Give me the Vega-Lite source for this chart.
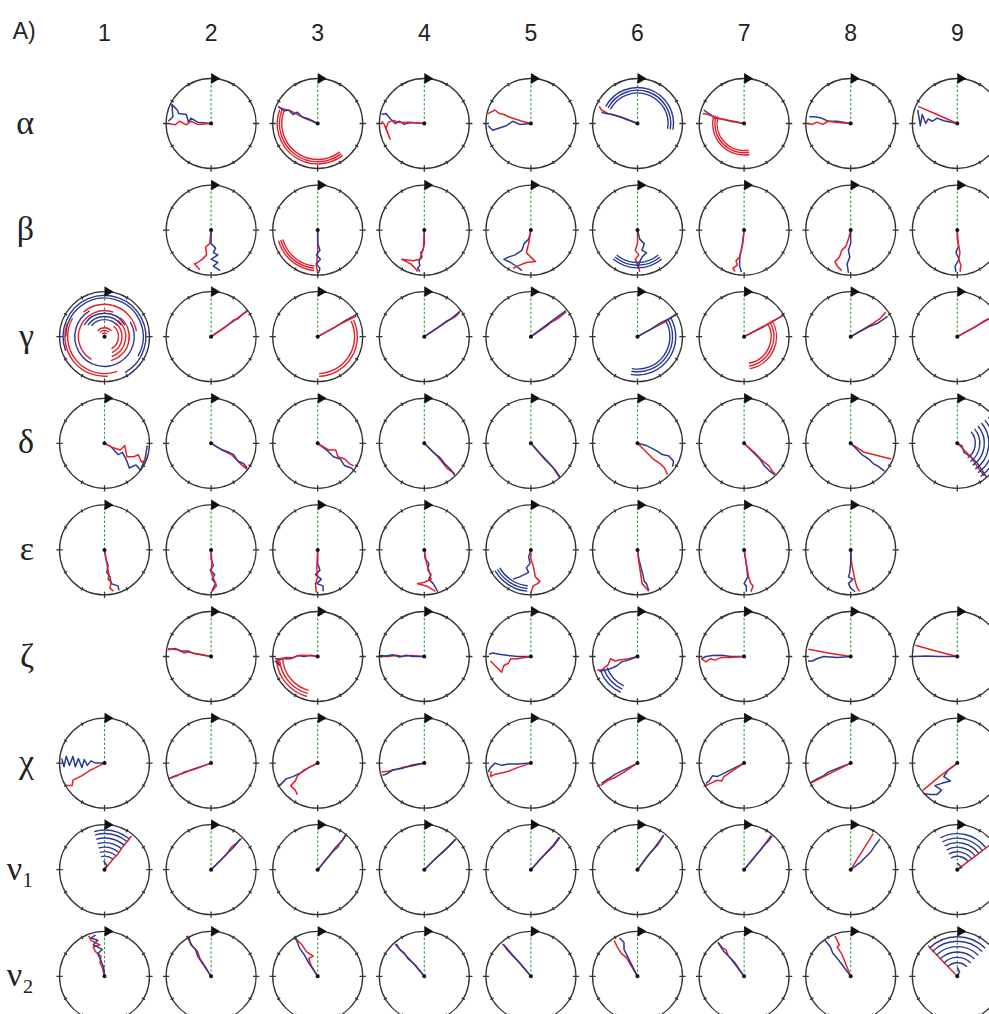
{
"$schema":"https://vega.github.io/schema/vega-lite/v6.json",
"padding":{"left":6,"top":21,"right":0,"bottom":0},
"background":"white",
"bounds":"flush",
"title":{"text":"A)","anchor":"start","frame":"bounds","fontSize":23,"font":"Liberation Sans","fontWeight":"normal","color":"#222","offset":-21,"dx":6},
"config":{"view":{"stroke":null},"point":{"opacity":1}},
"data":{"values":[
{"r":"α","c":1,"t":"e"},{"r":"β","c":1,"t":"e"},{"r":"ζ","c":1,"t":"e"},{"r":"ε","c":9,"t":"e"},
{"r":"α","c":2,"t":"c"},{"r":"α","c":3,"t":"c"},{"r":"α","c":4,"t":"c"},{"r":"α","c":5,"t":"c"},{"r":"α","c":6,"t":"c"},{"r":"α","c":7,"t":"c"},{"r":"α","c":8,"t":"c"},{"r":"α","c":9,"t":"c"},
{"r":"β","c":2,"t":"c"},{"r":"β","c":3,"t":"c"},{"r":"β","c":4,"t":"c"},{"r":"β","c":5,"t":"c"},{"r":"β","c":6,"t":"c"},{"r":"β","c":7,"t":"c"},{"r":"β","c":8,"t":"c"},{"r":"β","c":9,"t":"c"},
{"r":"γ","c":1,"t":"c"},{"r":"γ","c":2,"t":"c"},{"r":"γ","c":3,"t":"c"},{"r":"γ","c":4,"t":"c"},{"r":"γ","c":5,"t":"c"},{"r":"γ","c":6,"t":"c"},{"r":"γ","c":7,"t":"c"},{"r":"γ","c":8,"t":"c"},{"r":"γ","c":9,"t":"c"},
{"r":"δ","c":1,"t":"c"},{"r":"δ","c":2,"t":"c"},{"r":"δ","c":3,"t":"c"},{"r":"δ","c":4,"t":"c"},{"r":"δ","c":5,"t":"c"},{"r":"δ","c":6,"t":"c"},{"r":"δ","c":7,"t":"c"},{"r":"δ","c":8,"t":"c"},{"r":"δ","c":9,"t":"c"},
{"r":"ε","c":1,"t":"c"},{"r":"ε","c":2,"t":"c"},{"r":"ε","c":3,"t":"c"},{"r":"ε","c":4,"t":"c"},{"r":"ε","c":5,"t":"c"},{"r":"ε","c":6,"t":"c"},{"r":"ε","c":7,"t":"c"},{"r":"ε","c":8,"t":"c"},
{"r":"ζ","c":2,"t":"c"},{"r":"ζ","c":3,"t":"c"},{"r":"ζ","c":4,"t":"c"},{"r":"ζ","c":5,"t":"c"},{"r":"ζ","c":6,"t":"c"},{"r":"ζ","c":7,"t":"c"},{"r":"ζ","c":8,"t":"c"},{"r":"ζ","c":9,"t":"c"},
{"r":"χ","c":1,"t":"c"},{"r":"χ","c":2,"t":"c"},{"r":"χ","c":3,"t":"c"},{"r":"χ","c":4,"t":"c"},{"r":"χ","c":5,"t":"c"},{"r":"χ","c":6,"t":"c"},{"r":"χ","c":7,"t":"c"},{"r":"χ","c":8,"t":"c"},{"r":"χ","c":9,"t":"c"},
{"r":"ν₁","c":1,"t":"c"},{"r":"ν₁","c":2,"t":"c"},{"r":"ν₁","c":3,"t":"c"},{"r":"ν₁","c":4,"t":"c"},{"r":"ν₁","c":5,"t":"c"},{"r":"ν₁","c":6,"t":"c"},{"r":"ν₁","c":7,"t":"c"},{"r":"ν₁","c":8,"t":"c"},{"r":"ν₁","c":9,"t":"c"},
{"r":"ν₂","c":1,"t":"c"},{"r":"ν₂","c":2,"t":"c"},{"r":"ν₂","c":3,"t":"c"},{"r":"ν₂","c":4,"t":"c"},{"r":"ν₂","c":5,"t":"c"},{"r":"ν₂","c":6,"t":"c"},{"r":"ν₂","c":7,"t":"c"},{"r":"ν₂","c":8,"t":"c"},{"r":"ν₂","c":9,"t":"c"},

{"r":"α","c":2,"s":"b","o":0,"x":0,"y":0},{"r":"α","c":2,"s":"b","o":1,"x":-0.3,"y":0.03},{"r":"α","c":2,"s":"b","o":2,"x":-0.45,"y":0.12},{"r":"α","c":2,"s":"b","o":3,"x":-0.5,"y":0.02},{"r":"α","c":2,"s":"b","o":4,"x":-0.55,"y":0.2},{"r":"α","c":2,"s":"b","o":5,"x":-0.72,"y":0.22},{"r":"α","c":2,"s":"b","o":6,"x":-0.75,"y":0.3},{"r":"α","c":2,"s":"b","o":7,"x":-0.87,"y":0.42},{"r":"α","c":2,"s":"b","o":8,"x":-0.85,"y":0.15},{"r":"α","c":2,"s":"b","o":9,"x":-0.95,"y":0.05},
{"r":"α","c":2,"s":"r","o":0,"x":0,"y":0},{"r":"α","c":2,"s":"r","o":1,"x":-0.3,"y":-0.02},{"r":"α","c":2,"s":"r","o":2,"x":-0.45,"y":0.05},{"r":"α","c":2,"s":"r","o":3,"x":-0.55,"y":-0.03},{"r":"α","c":2,"s":"r","o":4,"x":-0.7,"y":0.05},{"r":"α","c":2,"s":"r","o":5,"x":-0.8,"y":-0.03},{"r":"α","c":2,"s":"r","o":6,"x":-0.95,"y":0.0},
{"r":"α","c":3,"s":"r","o":0,"x":0,"y":0},{"r":"α","c":3,"s":"r","o":1,"x":-0.3,"y":0.12},{"r":"α","c":3,"s":"r","o":2,"x":-0.6,"y":0.28},{"r":"α","c":3,"s":"r","o":3,"x":-0.85,"y":0.35},
{"r":"α","c":3,"s":"b","o":0,"x":0,"y":0},{"r":"α","c":3,"s":"b","o":1,"x":-0.2,"y":0.1},{"r":"α","c":3,"s":"b","o":2,"x":-0.35,"y":0.15},{"r":"α","c":3,"s":"b","o":3,"x":-0.45,"y":0.25},{"r":"α","c":3,"s":"b","o":4,"x":-0.55,"y":0.2},{"r":"α","c":3,"s":"b","o":5,"x":-0.65,"y":0.3},{"r":"α","c":3,"s":"b","o":6,"x":-0.75,"y":0.28},{"r":"α","c":3,"s":"b","o":7,"x":-0.88,"y":0.38},
{"r":"α","c":4,"s":"b","o":0,"x":0,"y":0},{"r":"α","c":4,"s":"b","o":1,"x":-0.3,"y":0.02},{"r":"α","c":4,"s":"b","o":2,"x":-0.45,"y":-0.02},{"r":"α","c":4,"s":"b","o":3,"x":-0.55,"y":0.05},{"r":"α","c":4,"s":"b","o":4,"x":-0.65,"y":0.0},{"r":"α","c":4,"s":"b","o":5,"x":-0.75,"y":0.1},{"r":"α","c":4,"s":"b","o":6,"x":-0.85,"y":0.22},{"r":"α","c":4,"s":"b","o":7,"x":-0.95,"y":0.2},
{"r":"α","c":4,"s":"r","o":0,"x":0,"y":0},{"r":"α","c":4,"s":"r","o":1,"x":-0.35,"y":0.03},{"r":"α","c":4,"s":"r","o":2,"x":-0.55,"y":0.02},{"r":"α","c":4,"s":"r","o":3,"x":-0.68,"y":0.07},{"r":"α","c":4,"s":"r","o":4,"x":-0.8,"y":0.03},{"r":"α","c":4,"s":"r","o":5,"x":-0.85,"y":-0.1},{"r":"α","c":4,"s":"r","o":6,"x":-0.76,"y":-0.35},{"r":"α","c":4,"s":"r","o":7,"x":-0.9,"y":0.0},{"r":"α","c":4,"s":"r","o":8,"x":-0.95,"y":0.05},
{"r":"α","c":5,"s":"r","o":0,"x":0,"y":0},{"r":"α","c":5,"s":"r","o":1,"x":-0.2,"y":0.05},{"r":"α","c":5,"s":"r","o":2,"x":-0.35,"y":0.1},{"r":"α","c":5,"s":"r","o":3,"x":-0.5,"y":0.15},{"r":"α","c":5,"s":"r","o":4,"x":-0.6,"y":0.2},{"r":"α","c":5,"s":"r","o":5,"x":-0.7,"y":0.22},{"r":"α","c":5,"s":"r","o":6,"x":-0.8,"y":0.3},{"r":"α","c":5,"s":"r","o":7,"x":-0.95,"y":0.22},
{"r":"α","c":5,"s":"b","o":0,"x":0,"y":0},{"r":"α","c":5,"s":"b","o":1,"x":-0.25,"y":-0.02},{"r":"α","c":5,"s":"b","o":2,"x":-0.4,"y":0.05},{"r":"α","c":5,"s":"b","o":3,"x":-0.55,"y":-0.05},{"r":"α","c":5,"s":"b","o":4,"x":-0.7,"y":-0.1},{"r":"α","c":5,"s":"b","o":5,"x":-0.85,"y":-0.15},{"r":"α","c":5,"s":"b","o":6,"x":-0.95,"y":-0.05},
{"r":"α","c":6,"s":"r","o":0,"x":0,"y":0},{"r":"α","c":6,"s":"r","o":1,"x":-0.4,"y":0.15},{"r":"α","c":6,"s":"r","o":2,"x":-0.65,"y":0.22},{"r":"α","c":6,"s":"r","o":3,"x":-0.8,"y":0.3},{"r":"α","c":6,"s":"r","o":4,"x":-0.85,"y":0.38},
{"r":"α","c":6,"s":"b","o":0,"x":0,"y":0},{"r":"α","c":6,"s":"b","o":1,"x":-0.35,"y":0.14},{"r":"α","c":6,"s":"b","o":2,"x":-0.55,"y":0.2},{"r":"α","c":6,"s":"b","o":3,"x":-0.7,"y":0.22},{"r":"α","c":6,"s":"b","o":4,"x":-0.8,"y":0.25},
{"r":"α","c":7,"s":"b","o":0,"x":0,"y":0},{"r":"α","c":7,"s":"b","o":1,"x":-0.3,"y":0.05},{"r":"α","c":7,"s":"b","o":2,"x":-0.5,"y":0.1},{"r":"α","c":7,"s":"b","o":3,"x":-0.65,"y":0.12},{"r":"α","c":7,"s":"b","o":4,"x":-0.75,"y":0.2},{"r":"α","c":7,"s":"b","o":5,"x":-0.9,"y":0.3},
{"r":"α","c":7,"s":"r","o":0,"x":0,"y":0},{"r":"α","c":7,"s":"r","o":1,"x":-0.35,"y":0.07},{"r":"α","c":7,"s":"r","o":2,"x":-0.6,"y":0.12},{"r":"α","c":7,"s":"r","o":3,"x":-0.8,"y":0.2},{"r":"α","c":7,"s":"r","o":4,"x":-0.92,"y":0.22},
{"r":"α","c":8,"s":"b","o":0,"x":0,"y":0},{"r":"α","c":8,"s":"b","o":1,"x":-0.3,"y":0.05},{"r":"α","c":8,"s":"b","o":2,"x":-0.5,"y":0.05},{"r":"α","c":8,"s":"b","o":3,"x":-0.65,"y":0.12},{"r":"α","c":8,"s":"b","o":4,"x":-0.8,"y":0.15},{"r":"α","c":8,"s":"b","o":5,"x":-0.92,"y":0.15},
{"r":"α","c":8,"s":"r","o":0,"x":0,"y":0},{"r":"α","c":8,"s":"r","o":1,"x":-0.3,"y":0.02},{"r":"α","c":8,"s":"r","o":2,"x":-0.5,"y":0.05},{"r":"α","c":8,"s":"r","o":3,"x":-0.62,"y":-0.02},{"r":"α","c":8,"s":"r","o":4,"x":-0.75,"y":0.03},{"r":"α","c":8,"s":"r","o":5,"x":-0.85,"y":-0.02},{"r":"α","c":8,"s":"r","o":6,"x":-0.95,"y":0.0},
{"r":"α","c":9,"s":"b","o":0,"x":0,"y":0},{"r":"α","c":9,"s":"b","o":1,"x":-0.3,"y":0.06},{"r":"α","c":9,"s":"b","o":2,"x":-0.45,"y":0.12},{"r":"α","c":9,"s":"b","o":3,"x":-0.55,"y":0.05},{"r":"α","c":9,"s":"b","o":4,"x":-0.65,"y":0.1},{"r":"α","c":9,"s":"b","o":5,"x":-0.7,"y":0.0},{"r":"α","c":9,"s":"b","o":6,"x":-0.78,"y":0.2},{"r":"α","c":9,"s":"b","o":7,"x":-0.82,"y":-0.05},{"r":"α","c":9,"s":"b","o":8,"x":-0.88,"y":0.3},
{"r":"α","c":9,"s":"r","o":0,"x":0,"y":0},{"r":"α","c":9,"s":"r","o":1,"x":-0.45,"y":0.2},{"r":"α","c":9,"s":"r","o":2,"x":-0.87,"y":0.38},

{"r":"β","c":2,"s":"r","o":0,"x":0,"y":0},{"r":"β","c":2,"s":"r","o":1,"x":-0.03,"y":-0.3},{"r":"β","c":2,"s":"r","o":2,"x":-0.12,"y":-0.37},{"r":"β","c":2,"s":"r","o":3,"x":-0.1,"y":-0.55},{"r":"β","c":2,"s":"r","o":4,"x":-0.2,"y":-0.65},{"r":"β","c":2,"s":"r","o":5,"x":-0.3,"y":-0.72},{"r":"β","c":2,"s":"r","o":6,"x":-0.37,"y":-0.75},{"r":"β","c":2,"s":"r","o":7,"x":-0.25,"y":-0.88},
{"r":"β","c":2,"s":"b","o":0,"x":0,"y":0},{"r":"β","c":2,"s":"b","o":1,"x":0.0,"y":-0.3},{"r":"β","c":2,"s":"b","o":2,"x":0.1,"y":-0.4},{"r":"β","c":2,"s":"b","o":3,"x":0.05,"y":-0.5},{"r":"β","c":2,"s":"b","o":4,"x":0.15,"y":-0.55},{"r":"β","c":2,"s":"b","o":5,"x":0.0,"y":-0.65},{"r":"β","c":2,"s":"b","o":6,"x":0.15,"y":-0.72},{"r":"β","c":2,"s":"b","o":7,"x":0.05,"y":-0.8},{"r":"β","c":2,"s":"b","o":8,"x":0.2,"y":-0.9},
{"r":"β","c":3,"s":"r","o":0,"x":0,"y":0},{"r":"β","c":3,"s":"r","o":1,"x":0.0,"y":-0.5},{"r":"β","c":3,"s":"r","o":2,"x":-0.03,"y":-0.8},{"r":"β","c":3,"s":"r","o":3,"x":0.0,"y":-0.95},
{"r":"β","c":3,"s":"b","o":0,"x":0,"y":0},{"r":"β","c":3,"s":"b","o":1,"x":0.0,"y":-0.3},{"r":"β","c":3,"s":"b","o":2,"x":0.05,"y":-0.45},{"r":"β","c":3,"s":"b","o":3,"x":-0.03,"y":-0.55},{"r":"β","c":3,"s":"b","o":4,"x":0.06,"y":-0.65},{"r":"β","c":3,"s":"b","o":5,"x":-0.03,"y":-0.75},{"r":"β","c":3,"s":"b","o":6,"x":0.05,"y":-0.85},{"r":"β","c":3,"s":"b","o":7,"x":0.02,"y":-0.95},
{"r":"β","c":4,"s":"b","o":0,"x":0,"y":0},{"r":"β","c":4,"s":"b","o":1,"x":0.0,"y":-0.3},{"r":"β","c":4,"s":"b","o":2,"x":-0.03,"y":-0.45},{"r":"β","c":4,"s":"b","o":3,"x":-0.08,"y":-0.5},{"r":"β","c":4,"s":"b","o":4,"x":-0.05,"y":-0.6},{"r":"β","c":4,"s":"b","o":5,"x":-0.12,"y":-0.68},{"r":"β","c":4,"s":"b","o":6,"x":-0.1,"y":-0.78},{"r":"β","c":4,"s":"b","o":7,"x":-0.15,"y":-0.85},{"r":"β","c":4,"s":"b","o":8,"x":-0.1,"y":-0.92},
{"r":"β","c":4,"s":"r","o":0,"x":0,"y":0},{"r":"β","c":4,"s":"r","o":1,"x":-0.02,"y":-0.4},{"r":"β","c":4,"s":"r","o":2,"x":-0.1,"y":-0.65},{"r":"β","c":4,"s":"r","o":3,"x":-0.25,"y":-0.68},{"r":"β","c":4,"s":"r","o":4,"x":-0.5,"y":-0.65},{"r":"β","c":4,"s":"r","o":5,"x":-0.3,"y":-0.75},{"r":"β","c":4,"s":"r","o":6,"x":-0.2,"y":-0.85},{"r":"β","c":4,"s":"r","o":7,"x":-0.15,"y":-0.92},
{"r":"β","c":5,"s":"b","o":0,"x":0,"y":0},{"r":"β","c":5,"s":"b","o":1,"x":-0.05,"y":-0.2},{"r":"β","c":5,"s":"b","o":2,"x":-0.15,"y":-0.3},{"r":"β","c":5,"s":"b","o":3,"x":-0.2,"y":-0.45},{"r":"β","c":5,"s":"b","o":4,"x":-0.35,"y":-0.55},{"r":"β","c":5,"s":"b","o":5,"x":-0.5,"y":-0.6},{"r":"β","c":5,"s":"b","o":6,"x":-0.6,"y":-0.65},{"r":"β","c":5,"s":"b","o":7,"x":-0.45,"y":-0.72},{"r":"β","c":5,"s":"b","o":8,"x":-0.3,"y":-0.82},{"r":"β","c":5,"s":"b","o":9,"x":-0.2,"y":-0.9},
{"r":"β","c":5,"s":"r","o":0,"x":0,"y":0},{"r":"β","c":5,"s":"r","o":1,"x":-0.05,"y":-0.3},{"r":"β","c":5,"s":"r","o":2,"x":-0.1,"y":-0.5},{"r":"β","c":5,"s":"r","o":3,"x":0.0,"y":-0.6},{"r":"β","c":5,"s":"r","o":4,"x":0.1,"y":-0.7},{"r":"β","c":5,"s":"r","o":5,"x":-0.1,"y":-0.72},{"r":"β","c":5,"s":"r","o":6,"x":-0.3,"y":-0.8},{"r":"β","c":5,"s":"r","o":7,"x":-0.4,"y":-0.85},
{"r":"β","c":6,"s":"r","o":0,"x":0,"y":0},{"r":"β","c":6,"s":"r","o":1,"x":0.0,"y":-0.3},{"r":"β","c":6,"s":"r","o":2,"x":-0.05,"y":-0.45},{"r":"β","c":6,"s":"r","o":3,"x":0.03,"y":-0.55},{"r":"β","c":6,"s":"r","o":4,"x":-0.05,"y":-0.65},{"r":"β","c":6,"s":"r","o":5,"x":0.02,"y":-0.8},{"r":"β","c":6,"s":"r","o":6,"x":0.05,"y":-0.93},
{"r":"β","c":6,"s":"b","o":0,"x":0,"y":0},{"r":"β","c":6,"s":"b","o":1,"x":0.05,"y":-0.2},{"r":"β","c":6,"s":"b","o":2,"x":0.15,"y":-0.3},{"r":"β","c":6,"s":"b","o":3,"x":0.1,"y":-0.45},{"r":"β","c":6,"s":"b","o":4,"x":0.2,"y":-0.5},{"r":"β","c":6,"s":"b","o":5,"x":0.1,"y":-0.6},{"r":"β","c":6,"s":"b","o":6,"x":0.05,"y":-0.7},{"r":"β","c":6,"s":"b","o":7,"x":0.0,"y":-0.85},
{"r":"β","c":7,"s":"b","o":0,"x":0,"y":0},{"r":"β","c":7,"s":"b","o":1,"x":-0.03,"y":-0.3},{"r":"β","c":7,"s":"b","o":2,"x":-0.08,"y":-0.5},{"r":"β","c":7,"s":"b","o":3,"x":-0.1,"y":-0.65},{"r":"β","c":7,"s":"b","o":4,"x":-0.1,"y":-0.8},{"r":"β","c":7,"s":"b","o":5,"x":-0.06,"y":-0.93},
{"r":"β","c":7,"s":"r","o":0,"x":0,"y":0},{"r":"β","c":7,"s":"r","o":1,"x":-0.05,"y":-0.4},{"r":"β","c":7,"s":"r","o":2,"x":-0.1,"y":-0.6},{"r":"β","c":7,"s":"r","o":3,"x":-0.18,"y":-0.68},{"r":"β","c":7,"s":"r","o":4,"x":-0.15,"y":-0.78},{"r":"β","c":7,"s":"r","o":5,"x":-0.25,"y":-0.85},{"r":"β","c":7,"s":"r","o":6,"x":-0.2,"y":-0.92},
{"r":"β","c":8,"s":"r","o":0,"x":0,"y":0},{"r":"β","c":8,"s":"r","o":1,"x":-0.05,"y":-0.2},{"r":"β","c":8,"s":"r","o":2,"x":-0.1,"y":-0.35},{"r":"β","c":8,"s":"r","o":3,"x":-0.2,"y":-0.45},{"r":"β","c":8,"s":"r","o":4,"x":-0.25,"y":-0.6},{"r":"β","c":8,"s":"r","o":5,"x":-0.35,"y":-0.7},{"r":"β","c":8,"s":"r","o":6,"x":-0.3,"y":-0.8},{"r":"β","c":8,"s":"r","o":7,"x":-0.2,"y":-0.9},
{"r":"β","c":8,"s":"b","o":0,"x":0,"y":0},{"r":"β","c":8,"s":"b","o":1,"x":0.0,"y":-0.3},{"r":"β","c":8,"s":"b","o":2,"x":-0.05,"y":-0.45},{"r":"β","c":8,"s":"b","o":3,"x":-0.02,"y":-0.6},{"r":"β","c":8,"s":"b","o":4,"x":-0.08,"y":-0.75},{"r":"β","c":8,"s":"b","o":5,"x":-0.05,"y":-0.95},
{"r":"β","c":9,"s":"b","o":0,"x":0,"y":0},{"r":"β","c":9,"s":"b","o":1,"x":0.0,"y":-0.2},{"r":"β","c":9,"s":"b","o":2,"x":0.03,"y":-0.35},{"r":"β","c":9,"s":"b","o":3,"x":-0.03,"y":-0.5},{"r":"β","c":9,"s":"b","o":4,"x":0.04,"y":-0.65},{"r":"β","c":9,"s":"b","o":5,"x":-0.05,"y":-0.8},{"r":"β","c":9,"s":"b","o":6,"x":-0.03,"y":-0.93},
{"r":"β","c":9,"s":"r","o":0,"x":0,"y":0},{"r":"β","c":9,"s":"r","o":1,"x":0.02,"y":-0.3},{"r":"β","c":9,"s":"r","o":2,"x":0.06,"y":-0.5},{"r":"β","c":9,"s":"r","o":3,"x":0.03,"y":-0.65},{"r":"β","c":9,"s":"r","o":4,"x":0.08,"y":-0.78},{"r":"β","c":9,"s":"r","o":5,"x":0.06,"y":-0.93},

{"r":"γ","c":2,"s":"b","o":0,"x":0,"y":0},{"r":"γ","c":2,"s":"b","o":1,"x":0.4,"y":0.28},{"r":"γ","c":2,"s":"b","o":2,"x":0.6,"y":0.42},{"r":"γ","c":2,"s":"b","o":3,"x":0.8,"y":0.58},
{"r":"γ","c":2,"s":"r","o":0,"x":0,"y":0},{"r":"γ","c":2,"s":"r","o":1,"x":0.3,"y":0.2},{"r":"γ","c":2,"s":"r","o":2,"x":0.5,"y":0.37},{"r":"γ","c":2,"s":"r","o":3,"x":0.6,"y":0.4},{"r":"γ","c":2,"s":"r","o":4,"x":0.7,"y":0.5},{"r":"γ","c":2,"s":"r","o":5,"x":0.82,"y":0.57},
{"r":"γ","c":3,"s":"b","o":0,"x":0,"y":0},{"r":"γ","c":3,"s":"b","o":1,"x":0.4,"y":0.22},{"r":"γ","c":3,"s":"b","o":2,"x":0.6,"y":0.35},{"r":"γ","c":3,"s":"b","o":3,"x":0.88,"y":0.5},
{"r":"γ","c":3,"s":"r","o":0,"x":0,"y":0},{"r":"γ","c":3,"s":"r","o":1,"x":0.5,"y":0.28},{"r":"γ","c":3,"s":"r","o":2,"x":0.85,"y":0.45},
{"r":"γ","c":4,"s":"r","o":0,"x":0,"y":0},{"r":"γ","c":4,"s":"r","o":1,"x":0.3,"y":0.2},{"r":"γ","c":4,"s":"r","o":2,"x":0.5,"y":0.35},{"r":"γ","c":4,"s":"r","o":3,"x":0.65,"y":0.42},{"r":"γ","c":4,"s":"r","o":4,"x":0.75,"y":0.5},{"r":"γ","c":4,"s":"r","o":5,"x":0.8,"y":0.58},
{"r":"γ","c":4,"s":"b","o":0,"x":0,"y":0},{"r":"γ","c":4,"s":"b","o":1,"x":0.4,"y":0.27},{"r":"γ","c":4,"s":"b","o":2,"x":0.6,"y":0.4},{"r":"γ","c":4,"s":"b","o":3,"x":0.78,"y":0.55},
{"r":"γ","c":5,"s":"r","o":0,"x":0,"y":0},{"r":"γ","c":5,"s":"r","o":1,"x":0.3,"y":0.2},{"r":"γ","c":5,"s":"r","o":2,"x":0.45,"y":0.32},{"r":"γ","c":5,"s":"r","o":3,"x":0.6,"y":0.4},{"r":"γ","c":5,"s":"r","o":4,"x":0.78,"y":0.55},
{"r":"γ","c":5,"s":"b","o":0,"x":0,"y":0},{"r":"γ","c":5,"s":"b","o":1,"x":0.4,"y":0.3},{"r":"γ","c":5,"s":"b","o":2,"x":0.78,"y":0.58},
{"r":"γ","c":6,"s":"r","o":0,"x":0,"y":0},{"r":"γ","c":6,"s":"r","o":1,"x":0.4,"y":0.22},{"r":"γ","c":6,"s":"r","o":2,"x":0.6,"y":0.32},{"r":"γ","c":6,"s":"r","o":3,"x":0.85,"y":0.5},
{"r":"γ","c":6,"s":"b","o":0,"x":0,"y":0},{"r":"γ","c":6,"s":"b","o":1,"x":0.3,"y":0.17},{"r":"γ","c":6,"s":"b","o":2,"x":0.5,"y":0.3},{"r":"γ","c":6,"s":"b","o":3,"x":0.7,"y":0.4},{"r":"γ","c":6,"s":"b","o":4,"x":0.85,"y":0.48},
{"r":"γ","c":7,"s":"b","o":0,"x":0,"y":0},{"r":"γ","c":7,"s":"b","o":1,"x":0.4,"y":0.2},{"r":"γ","c":7,"s":"b","o":2,"x":0.6,"y":0.32},{"r":"γ","c":7,"s":"b","o":3,"x":0.87,"y":0.48},
{"r":"γ","c":7,"s":"r","o":0,"x":0,"y":0},{"r":"γ","c":7,"s":"r","o":1,"x":0.5,"y":0.27},{"r":"γ","c":7,"s":"r","o":2,"x":0.88,"y":0.48},
{"r":"γ","c":8,"s":"r","o":0,"x":0,"y":0},{"r":"γ","c":8,"s":"r","o":1,"x":0.3,"y":0.18},{"r":"γ","c":8,"s":"r","o":2,"x":0.5,"y":0.3},{"r":"γ","c":8,"s":"r","o":3,"x":0.65,"y":0.4},{"r":"γ","c":8,"s":"r","o":4,"x":0.78,"y":0.55},
{"r":"γ","c":8,"s":"b","o":0,"x":0,"y":0},{"r":"γ","c":8,"s":"b","o":1,"x":0.4,"y":0.22},{"r":"γ","c":8,"s":"b","o":2,"x":0.6,"y":0.3},{"r":"γ","c":8,"s":"b","o":3,"x":0.75,"y":0.4},{"r":"γ","c":8,"s":"b","o":4,"x":0.82,"y":0.45},
{"r":"γ","c":9,"s":"b","o":0,"x":0,"y":0},{"r":"γ","c":9,"s":"b","o":1,"x":0.4,"y":0.22},{"r":"γ","c":9,"s":"b","o":2,"x":0.6,"y":0.35},{"r":"γ","c":9,"s":"b","o":3,"x":0.7,"y":0.4},{"r":"γ","c":9,"s":"b","o":4,"x":0.78,"y":0.45},{"r":"γ","c":9,"s":"b","o":5,"x":0.88,"y":0.5},
{"r":"γ","c":9,"s":"r","o":0,"x":0,"y":0},{"r":"γ","c":9,"s":"r","o":1,"x":0.5,"y":0.28},{"r":"γ","c":9,"s":"r","o":2,"x":0.8,"y":0.45},{"r":"γ","c":9,"s":"r","o":3,"x":0.9,"y":0.5},

{"r":"δ","c":1,"s":"b","o":0,"x":0,"y":0},{"r":"δ","c":1,"s":"b","o":1,"x":0.15,"y":-0.08},{"r":"δ","c":1,"s":"b","o":2,"x":0.3,"y":-0.25},{"r":"δ","c":1,"s":"b","o":3,"x":0.4,"y":-0.2},{"r":"δ","c":1,"s":"b","o":4,"x":0.5,"y":-0.4},{"r":"δ","c":1,"s":"b","o":5,"x":0.55,"y":-0.55},{"r":"δ","c":1,"s":"b","o":6,"x":0.7,"y":-0.48},{"r":"δ","c":1,"s":"b","o":7,"x":0.8,"y":-0.6},{"r":"δ","c":1,"s":"b","o":8,"x":0.9,"y":-0.35},{"r":"δ","c":1,"s":"b","o":9,"x":0.95,"y":-0.05},
{"r":"δ","c":1,"s":"r","o":0,"x":0,"y":0},{"r":"δ","c":1,"s":"r","o":1,"x":0.2,"y":-0.1},{"r":"δ","c":1,"s":"r","o":2,"x":0.35,"y":-0.15},{"r":"δ","c":1,"s":"r","o":3,"x":0.45,"y":-0.05},{"r":"δ","c":1,"s":"r","o":4,"x":0.5,"y":-0.3},{"r":"δ","c":1,"s":"r","o":5,"x":0.65,"y":-0.3},{"r":"δ","c":1,"s":"r","o":6,"x":0.75,"y":-0.25},{"r":"δ","c":1,"s":"r","o":7,"x":0.82,"y":-0.42},{"r":"δ","c":1,"s":"r","o":8,"x":0.9,"y":-0.38},
{"r":"δ","c":2,"s":"r","o":0,"x":0,"y":0},{"r":"δ","c":2,"s":"r","o":1,"x":0.3,"y":-0.18},{"r":"δ","c":2,"s":"r","o":2,"x":0.45,"y":-0.25},{"r":"δ","c":2,"s":"r","o":3,"x":0.55,"y":-0.35},{"r":"δ","c":2,"s":"r","o":4,"x":0.68,"y":-0.48},{"r":"δ","c":2,"s":"r","o":5,"x":0.8,"y":-0.58},
{"r":"δ","c":2,"s":"b","o":0,"x":0,"y":0},{"r":"δ","c":2,"s":"b","o":1,"x":0.25,"y":-0.15},{"r":"δ","c":2,"s":"b","o":2,"x":0.4,"y":-0.2},{"r":"δ","c":2,"s":"b","o":3,"x":0.5,"y":-0.25},{"r":"δ","c":2,"s":"b","o":4,"x":0.6,"y":-0.4},{"r":"δ","c":2,"s":"b","o":5,"x":0.72,"y":-0.45},{"r":"δ","c":2,"s":"b","o":6,"x":0.8,"y":-0.55},
{"r":"δ","c":3,"s":"b","o":0,"x":0,"y":0},{"r":"δ","c":3,"s":"b","o":1,"x":0.2,"y":-0.15},{"r":"δ","c":3,"s":"b","o":2,"x":0.35,"y":-0.3},{"r":"δ","c":3,"s":"b","o":3,"x":0.5,"y":-0.35},{"r":"δ","c":3,"s":"b","o":4,"x":0.6,"y":-0.5},{"r":"δ","c":3,"s":"b","o":5,"x":0.75,"y":-0.55},{"r":"δ","c":3,"s":"b","o":6,"x":0.85,"y":-0.65},
{"r":"δ","c":3,"s":"r","o":0,"x":0,"y":0},{"r":"δ","c":3,"s":"r","o":1,"x":0.25,"y":-0.15},{"r":"δ","c":3,"s":"r","o":2,"x":0.4,"y":-0.15},{"r":"δ","c":3,"s":"r","o":3,"x":0.45,"y":-0.3},{"r":"δ","c":3,"s":"r","o":4,"x":0.6,"y":-0.35},{"r":"δ","c":3,"s":"r","o":5,"x":0.7,"y":-0.45},{"r":"δ","c":3,"s":"r","o":6,"x":0.8,"y":-0.5},
{"r":"δ","c":4,"s":"r","o":0,"x":0,"y":0},{"r":"δ","c":4,"s":"r","o":1,"x":0.3,"y":-0.3},{"r":"δ","c":4,"s":"r","o":2,"x":0.5,"y":-0.55},{"r":"δ","c":4,"s":"r","o":3,"x":0.68,"y":-0.68},
{"r":"δ","c":4,"s":"b","o":0,"x":0,"y":0},{"r":"δ","c":4,"s":"b","o":1,"x":0.2,"y":-0.2},{"r":"δ","c":4,"s":"b","o":2,"x":0.35,"y":-0.32},{"r":"δ","c":4,"s":"b","o":3,"x":0.45,"y":-0.45},{"r":"δ","c":4,"s":"b","o":4,"x":0.55,"y":-0.55},{"r":"δ","c":4,"s":"b","o":5,"x":0.6,"y":-0.6},{"r":"δ","c":4,"s":"b","o":6,"x":0.68,"y":-0.72},
{"r":"δ","c":5,"s":"r","o":0,"x":0,"y":0},{"r":"δ","c":5,"s":"r","o":1,"x":0.3,"y":-0.35},{"r":"δ","c":5,"s":"r","o":2,"x":0.55,"y":-0.6},{"r":"δ","c":5,"s":"r","o":3,"x":0.65,"y":-0.75},
{"r":"δ","c":5,"s":"b","o":0,"x":0,"y":0},{"r":"δ","c":5,"s":"b","o":1,"x":0.2,"y":-0.22},{"r":"δ","c":5,"s":"b","o":2,"x":0.35,"y":-0.38},{"r":"δ","c":5,"s":"b","o":3,"x":0.5,"y":-0.55},{"r":"δ","c":5,"s":"b","o":4,"x":0.64,"y":-0.76},
{"r":"δ","c":6,"s":"b","o":0,"x":0,"y":0},{"r":"δ","c":6,"s":"b","o":1,"x":0.2,"y":-0.05},{"r":"δ","c":6,"s":"b","o":2,"x":0.4,"y":-0.15},{"r":"δ","c":6,"s":"b","o":3,"x":0.55,"y":-0.25},{"r":"δ","c":6,"s":"b","o":4,"x":0.7,"y":-0.28},{"r":"δ","c":6,"s":"b","o":5,"x":0.8,"y":-0.4},{"r":"δ","c":6,"s":"b","o":6,"x":0.78,"y":-0.52},
{"r":"δ","c":6,"s":"r","o":0,"x":0,"y":0},{"r":"δ","c":6,"s":"r","o":1,"x":0.2,"y":-0.2},{"r":"δ","c":6,"s":"r","o":2,"x":0.35,"y":-0.35},{"r":"δ","c":6,"s":"r","o":3,"x":0.5,"y":-0.45},{"r":"δ","c":6,"s":"r","o":4,"x":0.6,"y":-0.55},{"r":"δ","c":6,"s":"r","o":5,"x":0.67,"y":-0.7},
{"r":"δ","c":7,"s":"b","o":0,"x":0,"y":0},{"r":"δ","c":7,"s":"b","o":1,"x":0.2,"y":-0.2},{"r":"δ","c":7,"s":"b","o":2,"x":0.35,"y":-0.35},{"r":"δ","c":7,"s":"b","o":3,"x":0.45,"y":-0.5},{"r":"δ","c":7,"s":"b","o":4,"x":0.55,"y":-0.6},{"r":"δ","c":7,"s":"b","o":5,"x":0.68,"y":-0.7},
{"r":"δ","c":7,"s":"r","o":0,"x":0,"y":0},{"r":"δ","c":7,"s":"r","o":1,"x":0.25,"y":-0.22},{"r":"δ","c":7,"s":"r","o":2,"x":0.4,"y":-0.38},{"r":"δ","c":7,"s":"r","o":3,"x":0.55,"y":-0.5},{"r":"δ","c":7,"s":"r","o":4,"x":0.65,"y":-0.65},{"r":"δ","c":7,"s":"r","o":5,"x":0.7,"y":-0.68},
{"r":"δ","c":8,"s":"r","o":0,"x":0,"y":0},{"r":"δ","c":8,"s":"r","o":1,"x":0.3,"y":-0.2},{"r":"δ","c":8,"s":"r","o":2,"x":0.5,"y":-0.25},{"r":"δ","c":8,"s":"r","o":3,"x":0.7,"y":-0.3},{"r":"δ","c":8,"s":"r","o":4,"x":0.9,"y":-0.35},
{"r":"δ","c":8,"s":"b","o":0,"x":0,"y":0},{"r":"δ","c":8,"s":"b","o":1,"x":0.25,"y":-0.25},{"r":"δ","c":8,"s":"b","o":2,"x":0.4,"y":-0.35},{"r":"δ","c":8,"s":"b","o":3,"x":0.5,"y":-0.45},{"r":"δ","c":8,"s":"b","o":4,"x":0.6,"y":-0.5},{"r":"δ","c":8,"s":"b","o":5,"x":0.75,"y":-0.62},
{"r":"δ","c":9,"s":"b","o":0,"x":0,"y":0},{"r":"δ","c":9,"s":"b","o":1,"x":0.1,"y":-0.05},{"r":"δ","c":9,"s":"b","o":2,"x":0.15,"y":-0.2},{"r":"δ","c":9,"s":"b","o":3,"x":0.3,"y":-0.3},{"r":"δ","c":9,"s":"b","o":4,"x":0.45,"y":-0.45},{"r":"δ","c":9,"s":"b","o":5,"x":0.55,"y":-0.6},{"r":"δ","c":9,"s":"b","o":6,"x":0.65,"y":-0.75},
{"r":"δ","c":9,"s":"r","o":0,"x":0,"y":0},{"r":"δ","c":9,"s":"r","o":1,"x":0.3,"y":-0.3},{"r":"δ","c":9,"s":"r","o":2,"x":0.5,"y":-0.6},{"r":"δ","c":9,"s":"r","o":3,"x":0.6,"y":-0.72},

{"r":"ε","c":1,"s":"b","o":0,"x":0,"y":0},{"r":"ε","c":1,"s":"b","o":1,"x":0.03,"y":-0.2},{"r":"ε","c":1,"s":"b","o":2,"x":0.08,"y":-0.35},{"r":"ε","c":1,"s":"b","o":3,"x":0.05,"y":-0.5},{"r":"ε","c":1,"s":"b","o":4,"x":0.12,"y":-0.6},{"r":"ε","c":1,"s":"b","o":5,"x":0.15,"y":-0.75},{"r":"ε","c":1,"s":"b","o":6,"x":0.3,"y":-0.8},{"r":"ε","c":1,"s":"b","o":7,"x":0.32,"y":-0.9},
{"r":"ε","c":1,"s":"r","o":0,"x":0,"y":0},{"r":"ε","c":1,"s":"r","o":1,"x":0.05,"y":-0.3},{"r":"ε","c":1,"s":"r","o":2,"x":0.1,"y":-0.55},{"r":"ε","c":1,"s":"r","o":3,"x":0.08,"y":-0.65},{"r":"ε","c":1,"s":"r","o":4,"x":0.15,"y":-0.72},{"r":"ε","c":1,"s":"r","o":5,"x":0.12,"y":-0.85},{"r":"ε","c":1,"s":"r","o":6,"x":0.2,"y":-0.92},
{"r":"ε","c":2,"s":"b","o":0,"x":0,"y":0},{"r":"ε","c":2,"s":"b","o":1,"x":0.0,"y":-0.2},{"r":"ε","c":2,"s":"b","o":2,"x":0.05,"y":-0.35},{"r":"ε","c":2,"s":"b","o":3,"x":-0.02,"y":-0.45},{"r":"ε","c":2,"s":"b","o":4,"x":0.08,"y":-0.55},{"r":"ε","c":2,"s":"b","o":5,"x":0.02,"y":-0.65},{"r":"ε","c":2,"s":"b","o":6,"x":0.1,"y":-0.75},{"r":"ε","c":2,"s":"b","o":7,"x":0.02,"y":-0.9},
{"r":"ε","c":2,"s":"r","o":0,"x":0,"y":0},{"r":"ε","c":2,"s":"r","o":1,"x":0.02,"y":-0.3},{"r":"ε","c":2,"s":"r","o":2,"x":0.0,"y":-0.5},{"r":"ε","c":2,"s":"r","o":3,"x":0.06,"y":-0.65},{"r":"ε","c":2,"s":"r","o":4,"x":0.12,"y":-0.8},{"r":"ε","c":2,"s":"r","o":5,"x":0.0,"y":-0.95},
{"r":"ε","c":3,"s":"b","o":0,"x":0,"y":0},{"r":"ε","c":3,"s":"b","o":1,"x":0.0,"y":-0.3},{"r":"ε","c":3,"s":"b","o":2,"x":0.05,"y":-0.45},{"r":"ε","c":3,"s":"b","o":3,"x":-0.05,"y":-0.55},{"r":"ε","c":3,"s":"b","o":4,"x":0.08,"y":-0.65},{"r":"ε","c":3,"s":"b","o":5,"x":-0.02,"y":-0.75},{"r":"ε","c":3,"s":"b","o":6,"x":0.12,"y":-0.8},{"r":"ε","c":3,"s":"b","o":7,"x":0.12,"y":-0.92},
{"r":"ε","c":3,"s":"r","o":0,"x":0,"y":0},{"r":"ε","c":3,"s":"r","o":1,"x":-0.02,"y":-0.4},{"r":"ε","c":3,"s":"r","o":2,"x":0.0,"y":-0.6},{"r":"ε","c":3,"s":"r","o":3,"x":-0.05,"y":-0.75},{"r":"ε","c":3,"s":"r","o":4,"x":-0.03,"y":-0.95},
{"r":"ε","c":4,"s":"b","o":0,"x":0,"y":0},{"r":"ε","c":4,"s":"b","o":1,"x":0.02,"y":-0.2},{"r":"ε","c":4,"s":"b","o":2,"x":0.1,"y":-0.3},{"r":"ε","c":4,"s":"b","o":3,"x":0.08,"y":-0.45},{"r":"ε","c":4,"s":"b","o":4,"x":0.15,"y":-0.55},{"r":"ε","c":4,"s":"b","o":5,"x":0.1,"y":-0.65},{"r":"ε","c":4,"s":"b","o":6,"x":0.2,"y":-0.75},{"r":"ε","c":4,"s":"b","o":7,"x":0.3,"y":-0.93},
{"r":"ε","c":4,"s":"r","o":0,"x":0,"y":0},{"r":"ε","c":4,"s":"r","o":1,"x":0.05,"y":-0.3},{"r":"ε","c":4,"s":"r","o":2,"x":0.12,"y":-0.5},{"r":"ε","c":4,"s":"r","o":3,"x":0.15,"y":-0.65},{"r":"ε","c":4,"s":"r","o":4,"x":0.0,"y":-0.72},{"r":"ε","c":4,"s":"r","o":5,"x":-0.15,"y":-0.75},{"r":"ε","c":4,"s":"r","o":6,"x":0.05,"y":-0.8},{"r":"ε","c":4,"s":"r","o":7,"x":0.25,"y":-0.92},
{"r":"ε","c":5,"s":"b","o":0,"x":0,"y":0},{"r":"ε","c":5,"s":"b","o":1,"x":-0.05,"y":-0.15},{"r":"ε","c":5,"s":"b","o":2,"x":-0.02,"y":-0.3},{"r":"ε","c":5,"s":"b","o":3,"x":-0.1,"y":-0.4},{"r":"ε","c":5,"s":"b","o":4,"x":-0.05,"y":-0.5},{"r":"ε","c":5,"s":"b","o":5,"x":-0.15,"y":-0.55},{"r":"ε","c":5,"s":"b","o":6,"x":-0.25,"y":-0.6},{"r":"ε","c":5,"s":"b","o":7,"x":-0.4,"y":-0.65},
{"r":"ε","c":5,"s":"r","o":0,"x":0,"y":0},{"r":"ε","c":5,"s":"r","o":1,"x":0.0,"y":-0.2},{"r":"ε","c":5,"s":"r","o":2,"x":0.05,"y":-0.35},{"r":"ε","c":5,"s":"r","o":3,"x":0.08,"y":-0.5},{"r":"ε","c":5,"s":"r","o":4,"x":0.1,"y":-0.6},{"r":"ε","c":5,"s":"r","o":5,"x":0.2,"y":-0.7},{"r":"ε","c":5,"s":"r","o":6,"x":0.15,"y":-0.75},{"r":"ε","c":5,"s":"r","o":7,"x":0.05,"y":-0.8},{"r":"ε","c":5,"s":"r","o":8,"x":0.0,"y":-0.95},
{"r":"ε","c":6,"s":"b","o":0,"x":0,"y":0},{"r":"ε","c":6,"s":"b","o":1,"x":0.03,"y":-0.2},{"r":"ε","c":6,"s":"b","o":2,"x":0.08,"y":-0.4},{"r":"ε","c":6,"s":"b","o":3,"x":0.12,"y":-0.55},{"r":"ε","c":6,"s":"b","o":4,"x":0.15,"y":-0.7},{"r":"ε","c":6,"s":"b","o":5,"x":0.2,"y":-0.75},{"r":"ε","c":6,"s":"b","o":6,"x":0.25,"y":-0.9},
{"r":"ε","c":6,"s":"r","o":0,"x":0,"y":0},{"r":"ε","c":6,"s":"r","o":1,"x":0.02,"y":-0.2},{"r":"ε","c":6,"s":"r","o":2,"x":0.05,"y":-0.4},{"r":"ε","c":6,"s":"r","o":3,"x":0.08,"y":-0.6},{"r":"ε","c":6,"s":"r","o":4,"x":0.1,"y":-0.75},{"r":"ε","c":6,"s":"r","o":5,"x":0.15,"y":-0.8},{"r":"ε","c":6,"s":"r","o":6,"x":0.25,"y":-0.92},
{"r":"ε","c":7,"s":"b","o":0,"x":0,"y":0},{"r":"ε","c":7,"s":"b","o":1,"x":0.03,"y":-0.2},{"r":"ε","c":7,"s":"b","o":2,"x":0.06,"y":-0.4},{"r":"ε","c":7,"s":"b","o":3,"x":0.08,"y":-0.6},{"r":"ε","c":7,"s":"b","o":4,"x":0.0,"y":-0.75},{"r":"ε","c":7,"s":"b","o":5,"x":0.05,"y":-0.8},{"r":"ε","c":7,"s":"b","o":6,"x":0.05,"y":-0.93},
{"r":"ε","c":7,"s":"r","o":0,"x":0,"y":0},{"r":"ε","c":7,"s":"r","o":1,"x":0.05,"y":-0.3},{"r":"ε","c":7,"s":"r","o":2,"x":0.1,"y":-0.6},{"r":"ε","c":7,"s":"r","o":3,"x":0.15,"y":-0.75},{"r":"ε","c":7,"s":"r","o":4,"x":0.2,"y":-0.8},{"r":"ε","c":7,"s":"r","o":5,"x":0.15,"y":-0.93},
{"r":"ε","c":8,"s":"r","o":0,"x":0,"y":0},{"r":"ε","c":8,"s":"r","o":1,"x":0.02,"y":-0.3},{"r":"ε","c":8,"s":"r","o":2,"x":0.06,"y":-0.5},{"r":"ε","c":8,"s":"r","o":3,"x":0.1,"y":-0.7},{"r":"ε","c":8,"s":"r","o":4,"x":0.15,"y":-0.85},{"r":"ε","c":8,"s":"r","o":5,"x":0.2,"y":-0.92},
{"r":"ε","c":8,"s":"b","o":0,"x":0,"y":0},{"r":"ε","c":8,"s":"b","o":1,"x":0.0,"y":-0.3},{"r":"ε","c":8,"s":"b","o":2,"x":-0.02,"y":-0.5},{"r":"ε","c":8,"s":"b","o":3,"x":-0.05,"y":-0.6},{"r":"ε","c":8,"s":"b","o":4,"x":0.05,"y":-0.65},{"r":"ε","c":8,"s":"b","o":5,"x":-0.05,"y":-0.75},{"r":"ε","c":8,"s":"b","o":6,"x":0.0,"y":-0.85},{"r":"ε","c":8,"s":"b","o":7,"x":0.1,"y":-0.93},

{"r":"ζ","c":2,"s":"b","o":0,"x":0,"y":0},{"r":"ζ","c":2,"s":"b","o":1,"x":-0.25,"y":0.05},{"r":"ζ","c":2,"s":"b","o":2,"x":-0.4,"y":0.07},{"r":"ζ","c":2,"s":"b","o":3,"x":-0.5,"y":0.12},{"r":"ζ","c":2,"s":"b","o":4,"x":-0.65,"y":0.12},{"r":"ζ","c":2,"s":"b","o":5,"x":-0.8,"y":0.18},{"r":"ζ","c":2,"s":"b","o":6,"x":-0.95,"y":0.15},
{"r":"ζ","c":2,"s":"r","o":0,"x":0,"y":0},{"r":"ζ","c":2,"s":"r","o":1,"x":-0.3,"y":0.05},{"r":"ζ","c":2,"s":"r","o":2,"x":-0.5,"y":0.1},{"r":"ζ","c":2,"s":"r","o":3,"x":-0.6,"y":0.08},{"r":"ζ","c":2,"s":"r","o":4,"x":-0.75,"y":0.15},{"r":"ζ","c":2,"s":"r","o":5,"x":-0.96,"y":0.17},
{"r":"ζ","c":3,"s":"b","o":0,"x":0,"y":0},{"r":"ζ","c":3,"s":"b","o":1,"x":-0.15,"y":0.03},{"r":"ζ","c":3,"s":"b","o":2,"x":-0.3,"y":0.0},{"r":"ζ","c":3,"s":"b","o":3,"x":-0.45,"y":0.02},{"r":"ζ","c":3,"s":"b","o":4,"x":-0.6,"y":-0.05},{"r":"ζ","c":3,"s":"b","o":5,"x":-0.75,"y":-0.05},{"r":"ζ","c":3,"s":"b","o":6,"x":-0.9,"y":-0.07},{"r":"ζ","c":3,"s":"b","o":7,"x":-0.85,"y":-0.2},{"r":"ζ","c":3,"s":"b","o":8,"x":-0.95,"y":-0.1},
{"r":"ζ","c":3,"s":"r","o":0,"x":0,"y":0},{"r":"ζ","c":3,"s":"r","o":1,"x":-0.2,"y":0.02},{"r":"ζ","c":3,"s":"r","o":2,"x":-0.4,"y":0.03},{"r":"ζ","c":3,"s":"r","o":3,"x":-0.55,"y":-0.03},{"r":"ζ","c":3,"s":"r","o":4,"x":-0.7,"y":-0.02},{"r":"ζ","c":3,"s":"r","o":5,"x":-0.85,"y":-0.05},{"r":"ζ","c":3,"s":"r","o":6,"x":-0.95,"y":-0.05},
{"r":"ζ","c":4,"s":"r","o":0,"x":0,"y":0},{"r":"ζ","c":4,"s":"r","o":1,"x":-0.3,"y":0.02},{"r":"ζ","c":4,"s":"r","o":2,"x":-0.5,"y":0.0},{"r":"ζ","c":4,"s":"r","o":3,"x":-0.6,"y":0.03},{"r":"ζ","c":4,"s":"r","o":4,"x":-0.8,"y":0.0},{"r":"ζ","c":4,"s":"r","o":5,"x":-0.98,"y":0.0},
{"r":"ζ","c":4,"s":"b","o":0,"x":0,"y":0},{"r":"ζ","c":4,"s":"b","o":1,"x":-0.25,"y":0.0},{"r":"ζ","c":4,"s":"b","o":2,"x":-0.4,"y":0.03},{"r":"ζ","c":4,"s":"b","o":3,"x":-0.55,"y":-0.01},{"r":"ζ","c":4,"s":"b","o":4,"x":-0.7,"y":0.04},{"r":"ζ","c":4,"s":"b","o":5,"x":-0.85,"y":0.01},{"r":"ζ","c":4,"s":"b","o":6,"x":-0.98,"y":0.02},
{"r":"ζ","c":5,"s":"b","o":0,"x":0,"y":0},{"r":"ζ","c":5,"s":"b","o":1,"x":-0.3,"y":0.0},{"r":"ζ","c":5,"s":"b","o":2,"x":-0.5,"y":0.02},{"r":"ζ","c":5,"s":"b","o":3,"x":-0.7,"y":0.05},{"r":"ζ","c":5,"s":"b","o":4,"x":-0.85,"y":0.08},{"r":"ζ","c":5,"s":"b","o":5,"x":-0.93,"y":0.05},
{"r":"ζ","c":5,"s":"r","o":0,"x":0,"y":0},{"r":"ζ","c":5,"s":"r","o":1,"x":-0.3,"y":-0.05},{"r":"ζ","c":5,"s":"r","o":2,"x":-0.45,"y":-0.05},{"r":"ζ","c":5,"s":"r","o":3,"x":-0.5,"y":-0.15},{"r":"ζ","c":5,"s":"r","o":4,"x":-0.6,"y":-0.2},{"r":"ζ","c":5,"s":"r","o":5,"x":-0.65,"y":-0.35},{"r":"ζ","c":5,"s":"r","o":6,"x":-0.75,"y":-0.25},{"r":"ζ","c":5,"s":"r","o":7,"x":-0.85,"y":-0.15},{"r":"ζ","c":5,"s":"r","o":8,"x":-0.9,"y":-0.1},
{"r":"ζ","c":6,"s":"r","o":0,"x":0,"y":0},{"r":"ζ","c":6,"s":"r","o":1,"x":-0.2,"y":-0.05},{"r":"ζ","c":6,"s":"r","o":2,"x":-0.4,"y":-0.08},{"r":"ζ","c":6,"s":"r","o":3,"x":-0.5,"y":-0.1},{"r":"ζ","c":6,"s":"r","o":4,"x":-0.6,"y":-0.05},{"r":"ζ","c":6,"s":"r","o":5,"x":-0.65,"y":-0.18},{"r":"ζ","c":6,"s":"r","o":6,"x":-0.8,"y":-0.3},{"r":"ζ","c":6,"s":"r","o":7,"x":-0.9,"y":-0.3},
{"r":"ζ","c":6,"s":"b","o":0,"x":0,"y":0},{"r":"ζ","c":6,"s":"b","o":1,"x":-0.2,"y":-0.08},{"r":"ζ","c":6,"s":"b","o":2,"x":-0.35,"y":-0.12},{"r":"ζ","c":6,"s":"b","o":3,"x":-0.45,"y":-0.2},{"r":"ζ","c":6,"s":"b","o":4,"x":-0.55,"y":-0.25},{"r":"ζ","c":6,"s":"b","o":5,"x":-0.7,"y":-0.3},{"r":"ζ","c":6,"s":"b","o":6,"x":-0.85,"y":-0.33},
{"r":"ζ","c":7,"s":"b","o":0,"x":0,"y":0},{"r":"ζ","c":7,"s":"b","o":1,"x":-0.3,"y":0.0},{"r":"ζ","c":7,"s":"b","o":2,"x":-0.5,"y":0.03},{"r":"ζ","c":7,"s":"b","o":3,"x":-0.7,"y":0.02},{"r":"ζ","c":7,"s":"b","o":4,"x":-0.85,"y":0.0},{"r":"ζ","c":7,"s":"b","o":5,"x":-0.95,"y":-0.05},
{"r":"ζ","c":7,"s":"r","o":0,"x":0,"y":0},{"r":"ζ","c":7,"s":"r","o":1,"x":-0.3,"y":-0.02},{"r":"ζ","c":7,"s":"r","o":2,"x":-0.5,"y":-0.02},{"r":"ζ","c":7,"s":"r","o":3,"x":-0.65,"y":-0.08},{"r":"ζ","c":7,"s":"r","o":4,"x":-0.75,"y":-0.05},{"r":"ζ","c":7,"s":"r","o":5,"x":-0.85,"y":-0.12},{"r":"ζ","c":7,"s":"r","o":6,"x":-0.95,"y":-0.05},
{"r":"ζ","c":8,"s":"r","o":0,"x":0,"y":0},{"r":"ζ","c":8,"s":"r","o":1,"x":-0.5,"y":0.08},{"r":"ζ","c":8,"s":"r","o":2,"x":-0.94,"y":0.16},
{"r":"ζ","c":8,"s":"b","o":0,"x":0,"y":0},{"r":"ζ","c":8,"s":"b","o":1,"x":-0.3,"y":-0.02},{"r":"ζ","c":8,"s":"b","o":2,"x":-0.6,"y":0.0},{"r":"ζ","c":8,"s":"b","o":3,"x":-0.75,"y":-0.05},{"r":"ζ","c":8,"s":"b","o":4,"x":-0.85,"y":-0.1},{"r":"ζ","c":8,"s":"b","o":5,"x":-0.95,"y":-0.1},
{"r":"ζ","c":9,"s":"r","o":0,"x":0,"y":0},{"r":"ζ","c":9,"s":"r","o":1,"x":-0.5,"y":0.13},{"r":"ζ","c":9,"s":"r","o":2,"x":-0.93,"y":0.25},
{"r":"ζ","c":9,"s":"b","o":0,"x":0,"y":0},{"r":"ζ","c":9,"s":"b","o":1,"x":-0.4,"y":0.0},{"r":"ζ","c":9,"s":"b","o":2,"x":-0.7,"y":0.01},{"r":"ζ","c":9,"s":"b","o":3,"x":-0.95,"y":0.0},

{"r":"χ","c":1,"s":"b","o":0,"x":0,"y":0},{"r":"χ","c":1,"s":"b","o":1,"x":-0.2,"y":0.0},{"r":"χ","c":1,"s":"b","o":2,"x":-0.3,"y":0.05},{"r":"χ","c":1,"s":"b","o":3,"x":-0.38,"y":-0.05},{"r":"χ","c":1,"s":"b","o":4,"x":-0.45,"y":0.08},{"r":"χ","c":1,"s":"b","o":5,"x":-0.5,"y":-0.1},{"r":"χ","c":1,"s":"b","o":6,"x":-0.58,"y":0.1},{"r":"χ","c":1,"s":"b","o":7,"x":-0.65,"y":-0.08},{"r":"χ","c":1,"s":"b","o":8,"x":-0.7,"y":0.15},{"r":"χ","c":1,"s":"b","o":9,"x":-0.78,"y":-0.05},{"r":"χ","c":1,"s":"b","o":10,"x":-0.85,"y":0.15},{"r":"χ","c":1,"s":"b","o":11,"x":-0.9,"y":-0.08},{"r":"χ","c":1,"s":"b","o":12,"x":-0.95,"y":0.1},
{"r":"χ","c":1,"s":"r","o":0,"x":0,"y":0},{"r":"χ","c":1,"s":"r","o":1,"x":-0.3,"y":-0.15},{"r":"χ","c":1,"s":"r","o":2,"x":-0.5,"y":-0.28},{"r":"χ","c":1,"s":"r","o":3,"x":-0.7,"y":-0.38},{"r":"χ","c":1,"s":"r","o":4,"x":-0.72,"y":-0.5},{"r":"χ","c":1,"s":"r","o":5,"x":-0.83,"y":-0.5},
{"r":"χ","c":2,"s":"b","o":0,"x":0,"y":0},{"r":"χ","c":2,"s":"b","o":1,"x":-0.3,"y":-0.1},{"r":"χ","c":2,"s":"b","o":2,"x":-0.45,"y":-0.15},{"r":"χ","c":2,"s":"b","o":3,"x":-0.55,"y":-0.2},{"r":"χ","c":2,"s":"b","o":4,"x":-0.7,"y":-0.25},{"r":"χ","c":2,"s":"b","o":5,"x":-0.85,"y":-0.3},{"r":"χ","c":2,"s":"b","o":6,"x":-0.95,"y":-0.36},
{"r":"χ","c":2,"s":"r","o":0,"x":0,"y":0},{"r":"χ","c":2,"s":"r","o":1,"x":-0.4,"y":-0.15},{"r":"χ","c":2,"s":"r","o":2,"x":-0.6,"y":-0.2},{"r":"χ","c":2,"s":"r","o":3,"x":-0.75,"y":-0.28},{"r":"χ","c":2,"s":"r","o":4,"x":-0.95,"y":-0.35},
{"r":"χ","c":3,"s":"b","o":0,"x":0,"y":0},{"r":"χ","c":3,"s":"b","o":1,"x":-0.2,"y":-0.1},{"r":"χ","c":3,"s":"b","o":2,"x":-0.35,"y":-0.2},{"r":"χ","c":3,"s":"b","o":3,"x":-0.45,"y":-0.25},{"r":"χ","c":3,"s":"b","o":4,"x":-0.55,"y":-0.3},{"r":"χ","c":3,"s":"b","o":5,"x":-0.7,"y":-0.35},{"r":"χ","c":3,"s":"b","o":6,"x":-0.8,"y":-0.45},{"r":"χ","c":3,"s":"b","o":7,"x":-0.85,"y":-0.5},
{"r":"χ","c":3,"s":"r","o":0,"x":0,"y":0},{"r":"χ","c":3,"s":"r","o":1,"x":-0.3,"y":-0.15},{"r":"χ","c":3,"s":"r","o":2,"x":-0.45,"y":-0.28},{"r":"χ","c":3,"s":"r","o":3,"x":-0.5,"y":-0.4},{"r":"χ","c":3,"s":"r","o":4,"x":-0.6,"y":-0.5},{"r":"χ","c":3,"s":"r","o":5,"x":-0.5,"y":-0.6},{"r":"χ","c":3,"s":"r","o":6,"x":-0.45,"y":-0.7},
{"r":"χ","c":4,"s":"r","o":0,"x":0,"y":0},{"r":"χ","c":4,"s":"r","o":1,"x":-0.3,"y":-0.07},{"r":"χ","c":4,"s":"r","o":2,"x":-0.5,"y":-0.1},{"r":"χ","c":4,"s":"r","o":3,"x":-0.65,"y":-0.15},{"r":"χ","c":4,"s":"r","o":4,"x":-0.8,"y":-0.18},{"r":"χ","c":4,"s":"r","o":5,"x":-0.95,"y":-0.2},
{"r":"χ","c":4,"s":"b","o":0,"x":0,"y":0},{"r":"χ","c":4,"s":"b","o":1,"x":-0.3,"y":-0.05},{"r":"χ","c":4,"s":"b","o":2,"x":-0.5,"y":-0.12},{"r":"χ","c":4,"s":"b","o":3,"x":-0.7,"y":-0.15},{"r":"χ","c":4,"s":"b","o":4,"x":-0.85,"y":-0.25},{"r":"χ","c":4,"s":"b","o":5,"x":-0.93,"y":-0.27},
{"r":"χ","c":5,"s":"b","o":0,"x":0,"y":0},{"r":"χ","c":5,"s":"b","o":1,"x":-0.3,"y":-0.02},{"r":"χ","c":5,"s":"b","o":2,"x":-0.5,"y":-0.02},{"r":"χ","c":5,"s":"b","o":3,"x":-0.65,"y":-0.05},{"r":"χ","c":5,"s":"b","o":4,"x":-0.8,"y":0.0},{"r":"χ","c":5,"s":"b","o":5,"x":-0.9,"y":-0.1},{"r":"χ","c":5,"s":"b","o":6,"x":-0.95,"y":-0.2},
{"r":"χ","c":5,"s":"r","o":0,"x":0,"y":0},{"r":"χ","c":5,"s":"r","o":1,"x":-0.3,"y":-0.1},{"r":"χ","c":5,"s":"r","o":2,"x":-0.5,"y":-0.18},{"r":"χ","c":5,"s":"r","o":3,"x":-0.65,"y":-0.22},{"r":"χ","c":5,"s":"r","o":4,"x":-0.8,"y":-0.25},{"r":"χ","c":5,"s":"r","o":5,"x":-0.9,"y":-0.3},{"r":"χ","c":5,"s":"r","o":6,"x":-0.88,"y":-0.18},
{"r":"χ","c":6,"s":"b","o":0,"x":0,"y":0},{"r":"χ","c":6,"s":"b","o":1,"x":-0.3,"y":-0.15},{"r":"χ","c":6,"s":"b","o":2,"x":-0.5,"y":-0.25},{"r":"χ","c":6,"s":"b","o":3,"x":-0.65,"y":-0.35},{"r":"χ","c":6,"s":"b","o":4,"x":-0.8,"y":-0.45},
{"r":"χ","c":6,"s":"r","o":0,"x":0,"y":0},{"r":"χ","c":6,"s":"r","o":1,"x":-0.3,"y":-0.2},{"r":"χ","c":6,"s":"r","o":2,"x":-0.5,"y":-0.32},{"r":"χ","c":6,"s":"r","o":3,"x":-0.65,"y":-0.38},{"r":"χ","c":6,"s":"r","o":4,"x":-0.82,"y":-0.5},
{"r":"χ","c":7,"s":"b","o":0,"x":0,"y":0},{"r":"χ","c":7,"s":"b","o":1,"x":-0.3,"y":-0.15},{"r":"χ","c":7,"s":"b","o":2,"x":-0.5,"y":-0.25},{"r":"χ","c":7,"s":"b","o":3,"x":-0.6,"y":-0.3},{"r":"χ","c":7,"s":"b","o":4,"x":-0.7,"y":-0.28},{"r":"χ","c":7,"s":"b","o":5,"x":-0.78,"y":-0.4},{"r":"χ","c":7,"s":"b","o":6,"x":-0.85,"y":-0.45},
{"r":"χ","c":7,"s":"r","o":0,"x":0,"y":0},{"r":"χ","c":7,"s":"r","o":1,"x":-0.3,"y":-0.2},{"r":"χ","c":7,"s":"r","o":2,"x":-0.45,"y":-0.3},{"r":"χ","c":7,"s":"r","o":3,"x":-0.5,"y":-0.4},{"r":"χ","c":7,"s":"r","o":4,"x":-0.6,"y":-0.38},{"r":"χ","c":7,"s":"r","o":5,"x":-0.75,"y":-0.45},{"r":"χ","c":7,"s":"r","o":6,"x":-0.85,"y":-0.5},
{"r":"χ","c":8,"s":"b","o":0,"x":0,"y":0},{"r":"χ","c":8,"s":"b","o":1,"x":-0.3,"y":-0.12},{"r":"χ","c":8,"s":"b","o":2,"x":-0.5,"y":-0.2},{"r":"χ","c":8,"s":"b","o":3,"x":-0.6,"y":-0.28},{"r":"χ","c":8,"s":"b","o":4,"x":-0.75,"y":-0.35},{"r":"χ","c":8,"s":"b","o":5,"x":-0.88,"y":-0.43},
{"r":"χ","c":8,"s":"r","o":0,"x":0,"y":0},{"r":"χ","c":8,"s":"r","o":1,"x":-0.4,"y":-0.2},{"r":"χ","c":8,"s":"r","o":2,"x":-0.7,"y":-0.35},{"r":"χ","c":8,"s":"r","o":3,"x":-0.9,"y":-0.45},
{"r":"χ","c":9,"s":"b","o":0,"x":0,"y":0},{"r":"χ","c":9,"s":"b","o":1,"x":-0.2,"y":-0.15},{"r":"χ","c":9,"s":"b","o":2,"x":-0.3,"y":-0.3},{"r":"χ","c":9,"s":"b","o":3,"x":-0.15,"y":-0.4},{"r":"χ","c":9,"s":"b","o":4,"x":-0.35,"y":-0.45},{"r":"χ","c":9,"s":"b","o":5,"x":-0.5,"y":-0.5},{"r":"χ","c":9,"s":"b","o":6,"x":-0.35,"y":-0.6},{"r":"χ","c":9,"s":"b","o":7,"x":-0.45,"y":-0.7},{"r":"χ","c":9,"s":"b","o":8,"x":-0.6,"y":-0.7},{"r":"χ","c":9,"s":"b","o":9,"x":-0.75,"y":-0.68},
{"r":"χ","c":9,"s":"r","o":0,"x":0,"y":0},{"r":"χ","c":9,"s":"r","o":1,"x":-0.4,"y":-0.3},{"r":"χ","c":9,"s":"r","o":2,"x":-0.76,"y":-0.6},

{"r":"ν₁","c":1,"s":"r","o":0,"x":0,"y":0},{"r":"ν₁","c":1,"s":"r","o":1,"x":0.2,"y":0.25},{"r":"ν₁","c":1,"s":"r","o":2,"x":0.3,"y":0.35},{"r":"ν₁","c":1,"s":"r","o":3,"x":0.4,"y":0.5},{"r":"ν₁","c":1,"s":"r","o":4,"x":0.5,"y":0.62},{"r":"ν₁","c":1,"s":"r","o":5,"x":0.6,"y":0.75},
{"r":"ν₁","c":1,"s":"b","o":0,"x":0,"y":0},{"r":"ν₁","c":1,"s":"b","o":1,"x":0.05,"y":0.1},{"r":"ν₁","c":1,"s":"b","o":2,"x":-0.02,"y":0.2},
{"r":"ν₁","c":2,"s":"r","o":0,"x":0,"y":0},{"r":"ν₁","c":2,"s":"r","o":1,"x":0.2,"y":0.2},{"r":"ν₁","c":2,"s":"r","o":2,"x":0.35,"y":0.35},{"r":"ν₁","c":2,"s":"r","o":3,"x":0.45,"y":0.5},{"r":"ν₁","c":2,"s":"r","o":4,"x":0.6,"y":0.62},{"r":"ν₁","c":2,"s":"r","o":5,"x":0.68,"y":0.7},
{"r":"ν₁","c":2,"s":"b","o":0,"x":0,"y":0},{"r":"ν₁","c":2,"s":"b","o":1,"x":0.3,"y":0.3},{"r":"ν₁","c":2,"s":"b","o":2,"x":0.5,"y":0.5},{"r":"ν₁","c":2,"s":"b","o":3,"x":0.65,"y":0.68},
{"r":"ν₁","c":3,"s":"r","o":0,"x":0,"y":0},{"r":"ν₁","c":3,"s":"r","o":1,"x":0.2,"y":0.25},{"r":"ν₁","c":3,"s":"r","o":2,"x":0.35,"y":0.42},{"r":"ν₁","c":3,"s":"r","o":3,"x":0.45,"y":0.5},{"r":"ν₁","c":3,"s":"r","o":4,"x":0.5,"y":0.6},{"r":"ν₁","c":3,"s":"r","o":5,"x":0.6,"y":0.72},{"r":"ν₁","c":3,"s":"r","o":6,"x":0.65,"y":0.8},
{"r":"ν₁","c":3,"s":"b","o":0,"x":0,"y":0},{"r":"ν₁","c":3,"s":"b","o":1,"x":0.25,"y":0.3},{"r":"ν₁","c":3,"s":"b","o":2,"x":0.4,"y":0.5},{"r":"ν₁","c":3,"s":"b","o":3,"x":0.55,"y":0.65},{"r":"ν₁","c":3,"s":"b","o":4,"x":0.62,"y":0.78},
{"r":"ν₁","c":4,"s":"r","o":0,"x":0,"y":0},{"r":"ν₁","c":4,"s":"r","o":1,"x":0.3,"y":0.3},{"r":"ν₁","c":4,"s":"r","o":2,"x":0.5,"y":0.48},{"r":"ν₁","c":4,"s":"r","o":3,"x":0.7,"y":0.68},
{"r":"ν₁","c":4,"s":"b","o":0,"x":0,"y":0},{"r":"ν₁","c":4,"s":"b","o":1,"x":0.2,"y":0.2},{"r":"ν₁","c":4,"s":"b","o":2,"x":0.4,"y":0.38},{"r":"ν₁","c":4,"s":"b","o":3,"x":0.55,"y":0.52},{"r":"ν₁","c":4,"s":"b","o":4,"x":0.7,"y":0.68},
{"r":"ν₁","c":5,"s":"r","o":0,"x":0,"y":0},{"r":"ν₁","c":5,"s":"r","o":1,"x":0.25,"y":0.28},{"r":"ν₁","c":5,"s":"r","o":2,"x":0.4,"y":0.42},{"r":"ν₁","c":5,"s":"r","o":3,"x":0.5,"y":0.52},{"r":"ν₁","c":5,"s":"r","o":4,"x":0.65,"y":0.72},
{"r":"ν₁","c":5,"s":"b","o":0,"x":0,"y":0},{"r":"ν₁","c":5,"s":"b","o":1,"x":0.3,"y":0.33},{"r":"ν₁","c":5,"s":"b","o":2,"x":0.5,"y":0.55},{"r":"ν₁","c":5,"s":"b","o":3,"x":0.63,"y":0.72},
{"r":"ν₁","c":6,"s":"r","o":0,"x":0,"y":0},{"r":"ν₁","c":6,"s":"r","o":1,"x":0.3,"y":0.4},{"r":"ν₁","c":6,"s":"r","o":2,"x":0.4,"y":0.5},{"r":"ν₁","c":6,"s":"r","o":3,"x":0.45,"y":0.55},{"r":"ν₁","c":6,"s":"r","o":4,"x":0.58,"y":0.76},
{"r":"ν₁","c":6,"s":"b","o":0,"x":0,"y":0},{"r":"ν₁","c":6,"s":"b","o":1,"x":0.2,"y":0.27},{"r":"ν₁","c":6,"s":"b","o":2,"x":0.35,"y":0.45},{"r":"ν₁","c":6,"s":"b","o":3,"x":0.5,"y":0.65},{"r":"ν₁","c":6,"s":"b","o":4,"x":0.58,"y":0.77},
{"r":"ν₁","c":7,"s":"r","o":0,"x":0,"y":0},{"r":"ν₁","c":7,"s":"r","o":1,"x":0.25,"y":0.3},{"r":"ν₁","c":7,"s":"r","o":2,"x":0.45,"y":0.55},{"r":"ν₁","c":7,"s":"r","o":3,"x":0.6,"y":0.76},
{"r":"ν₁","c":7,"s":"b","o":0,"x":0,"y":0},{"r":"ν₁","c":7,"s":"b","o":1,"x":0.2,"y":0.25},{"r":"ν₁","c":7,"s":"b","o":2,"x":0.35,"y":0.42},{"r":"ν₁","c":7,"s":"b","o":3,"x":0.45,"y":0.55},{"r":"ν₁","c":7,"s":"b","o":4,"x":0.55,"y":0.65},{"r":"ν₁","c":7,"s":"b","o":5,"x":0.62,"y":0.75},
{"r":"ν₁","c":8,"s":"r","o":0,"x":0,"y":0},{"r":"ν₁","c":8,"s":"r","o":1,"x":0.25,"y":0.4},{"r":"ν₁","c":8,"s":"r","o":2,"x":0.5,"y":0.8},
{"r":"ν₁","c":8,"s":"b","o":0,"x":0,"y":0},{"r":"ν₁","c":8,"s":"b","o":1,"x":0.2,"y":0.15},{"r":"ν₁","c":8,"s":"b","o":2,"x":0.35,"y":0.3},{"r":"ν₁","c":8,"s":"b","o":3,"x":0.45,"y":0.4},{"r":"ν₁","c":8,"s":"b","o":4,"x":0.55,"y":0.55},{"r":"ν₁","c":8,"s":"b","o":5,"x":0.65,"y":0.68},
{"r":"ν₁","c":9,"s":"r","o":0,"x":0,"y":0},{"r":"ν₁","c":9,"s":"r","o":1,"x":0.4,"y":0.3},{"r":"ν₁","c":9,"s":"r","o":2,"x":0.75,"y":0.57},
{"r":"ν₁","c":9,"s":"b","o":0,"x":0,"y":0},{"r":"ν₁","c":9,"s":"b","o":1,"x":0.1,"y":0.05},{"r":"ν₁","c":9,"s":"b","o":2,"x":0.0,"y":0.15},

{"r":"ν₂","c":1,"s":"r","o":0,"x":0,"y":0},{"r":"ν₂","c":1,"s":"r","o":1,"x":-0.05,"y":0.2},{"r":"ν₂","c":1,"s":"r","o":2,"x":-0.1,"y":0.3},{"r":"ν₂","c":1,"s":"r","o":3,"x":-0.08,"y":0.45},{"r":"ν₂","c":1,"s":"r","o":4,"x":-0.2,"y":0.55},{"r":"ν₂","c":1,"s":"r","o":5,"x":-0.25,"y":0.65},{"r":"ν₂","c":1,"s":"r","o":6,"x":-0.1,"y":0.7},{"r":"ν₂","c":1,"s":"r","o":7,"x":-0.3,"y":0.8},{"r":"ν₂","c":1,"s":"r","o":8,"x":-0.35,"y":0.9},
{"r":"ν₂","c":1,"s":"b","o":0,"x":0,"y":0},{"r":"ν₂","c":1,"s":"b","o":1,"x":-0.02,"y":0.2},{"r":"ν₂","c":1,"s":"b","o":2,"x":-0.08,"y":0.35},{"r":"ν₂","c":1,"s":"b","o":3,"x":-0.15,"y":0.5},{"r":"ν₂","c":1,"s":"b","o":4,"x":-0.05,"y":0.6},{"r":"ν₂","c":1,"s":"b","o":5,"x":-0.25,"y":0.7},{"r":"ν₂","c":1,"s":"b","o":6,"x":-0.15,"y":0.8},{"r":"ν₂","c":1,"s":"b","o":7,"x":-0.3,"y":0.85},{"r":"ν₂","c":1,"s":"b","o":8,"x":-0.2,"y":0.92},
{"r":"ν₂","c":2,"s":"r","o":0,"x":0,"y":0},{"r":"ν₂","c":2,"s":"r","o":1,"x":-0.15,"y":0.25},{"r":"ν₂","c":2,"s":"r","o":2,"x":-0.25,"y":0.4},{"r":"ν₂","c":2,"s":"r","o":3,"x":-0.3,"y":0.55},{"r":"ν₂","c":2,"s":"r","o":4,"x":-0.4,"y":0.65},{"r":"ν₂","c":2,"s":"r","o":5,"x":-0.55,"y":0.9},
{"r":"ν₂","c":2,"s":"b","o":0,"x":0,"y":0},{"r":"ν₂","c":2,"s":"b","o":1,"x":-0.2,"y":0.3},{"r":"ν₂","c":2,"s":"b","o":2,"x":-0.3,"y":0.45},{"r":"ν₂","c":2,"s":"b","o":3,"x":-0.35,"y":0.6},{"r":"ν₂","c":2,"s":"b","o":4,"x":-0.45,"y":0.7},{"r":"ν₂","c":2,"s":"b","o":5,"x":-0.5,"y":0.88},
{"r":"ν₂","c":3,"s":"r","o":0,"x":0,"y":0},{"r":"ν₂","c":3,"s":"r","o":1,"x":-0.15,"y":0.25},{"r":"ν₂","c":3,"s":"r","o":2,"x":-0.2,"y":0.4},{"r":"ν₂","c":3,"s":"r","o":3,"x":-0.1,"y":0.45},{"r":"ν₂","c":3,"s":"r","o":4,"x":-0.25,"y":0.55},{"r":"ν₂","c":3,"s":"r","o":5,"x":-0.35,"y":0.7},{"r":"ν₂","c":3,"s":"r","o":6,"x":-0.45,"y":0.8},{"r":"ν₂","c":3,"s":"r","o":7,"x":-0.55,"y":0.85},
{"r":"ν₂","c":3,"s":"b","o":0,"x":0,"y":0},{"r":"ν₂","c":3,"s":"b","o":1,"x":-0.2,"y":0.3},{"r":"ν₂","c":3,"s":"b","o":2,"x":-0.3,"y":0.48},{"r":"ν₂","c":3,"s":"b","o":3,"x":-0.4,"y":0.62},{"r":"ν₂","c":3,"s":"b","o":4,"x":-0.45,"y":0.75},{"r":"ν₂","c":3,"s":"b","o":5,"x":-0.5,"y":0.88},
{"r":"ν₂","c":4,"s":"r","o":0,"x":0,"y":0},{"r":"ν₂","c":4,"s":"r","o":1,"x":-0.3,"y":0.35},{"r":"ν₂","c":4,"s":"r","o":2,"x":-0.5,"y":0.55},{"r":"ν₂","c":4,"s":"r","o":3,"x":-0.65,"y":0.72},
{"r":"ν₂","c":4,"s":"b","o":0,"x":0,"y":0},{"r":"ν₂","c":4,"s":"b","o":1,"x":-0.2,"y":0.25},{"r":"ν₂","c":4,"s":"b","o":2,"x":-0.35,"y":0.38},{"r":"ν₂","c":4,"s":"b","o":3,"x":-0.45,"y":0.52},{"r":"ν₂","c":4,"s":"b","o":4,"x":-0.55,"y":0.6},{"r":"ν₂","c":4,"s":"b","o":5,"x":-0.62,"y":0.72},
{"r":"ν₂","c":5,"s":"r","o":0,"x":0,"y":0},{"r":"ν₂","c":5,"s":"r","o":1,"x":-0.3,"y":0.35},{"r":"ν₂","c":5,"s":"r","o":2,"x":-0.6,"y":0.7},
{"r":"ν₂","c":5,"s":"b","o":0,"x":0,"y":0},{"r":"ν₂","c":5,"s":"b","o":1,"x":-0.25,"y":0.3},{"r":"ν₂","c":5,"s":"b","o":2,"x":-0.4,"y":0.45},{"r":"ν₂","c":5,"s":"b","o":3,"x":-0.55,"y":0.62},{"r":"ν₂","c":5,"s":"b","o":4,"x":-0.63,"y":0.72},
{"r":"ν₂","c":6,"s":"r","o":0,"x":0,"y":0},{"r":"ν₂","c":6,"s":"r","o":1,"x":-0.15,"y":0.25},{"r":"ν₂","c":6,"s":"r","o":2,"x":-0.25,"y":0.42},{"r":"ν₂","c":6,"s":"r","o":3,"x":-0.35,"y":0.5},{"r":"ν₂","c":6,"s":"r","o":4,"x":-0.45,"y":0.65},{"r":"ν₂","c":6,"s":"r","o":5,"x":-0.52,"y":0.8},
{"r":"ν₂","c":6,"s":"b","o":0,"x":0,"y":0},{"r":"ν₂","c":6,"s":"b","o":1,"x":-0.15,"y":0.3},{"r":"ν₂","c":6,"s":"b","o":2,"x":-0.25,"y":0.5},{"r":"ν₂","c":6,"s":"b","o":3,"x":-0.3,"y":0.6},{"r":"ν₂","c":6,"s":"b","o":4,"x":-0.3,"y":0.75},{"r":"ν₂","c":6,"s":"b","o":5,"x":-0.35,"y":0.8},{"r":"ν₂","c":6,"s":"b","o":6,"x":-0.4,"y":0.85},
{"r":"ν₂","c":7,"s":"r","o":0,"x":0,"y":0},{"r":"ν₂","c":7,"s":"r","o":1,"x":-0.2,"y":0.3},{"r":"ν₂","c":7,"s":"r","o":2,"x":-0.35,"y":0.45},{"r":"ν₂","c":7,"s":"r","o":3,"x":-0.4,"y":0.58},{"r":"ν₂","c":7,"s":"r","o":4,"x":-0.5,"y":0.65},{"r":"ν₂","c":7,"s":"r","o":5,"x":-0.58,"y":0.76},
{"r":"ν₂","c":7,"s":"b","o":0,"x":0,"y":0},{"r":"ν₂","c":7,"s":"b","o":1,"x":-0.3,"y":0.4},{"r":"ν₂","c":7,"s":"b","o":2,"x":-0.45,"y":0.55},{"r":"ν₂","c":7,"s":"b","o":3,"x":-0.58,"y":0.75},
{"r":"ν₂","c":8,"s":"r","o":0,"x":0,"y":0},{"r":"ν₂","c":8,"s":"r","o":1,"x":-0.2,"y":0.5},{"r":"ν₂","c":8,"s":"r","o":2,"x":-0.3,"y":0.65},{"r":"ν₂","c":8,"s":"r","o":3,"x":-0.25,"y":0.7},{"r":"ν₂","c":8,"s":"r","o":4,"x":-0.35,"y":0.9},
{"r":"ν₂","c":8,"s":"b","o":0,"x":0,"y":0},{"r":"ν₂","c":8,"s":"b","o":1,"x":-0.15,"y":0.2},{"r":"ν₂","c":8,"s":"b","o":2,"x":-0.3,"y":0.4},{"r":"ν₂","c":8,"s":"b","o":3,"x":-0.4,"y":0.52},{"r":"ν₂","c":8,"s":"b","o":4,"x":-0.45,"y":0.65},{"r":"ν₂","c":8,"s":"b","o":5,"x":-0.57,"y":0.8},
{"r":"ν₂","c":9,"s":"r","o":0,"x":0,"y":0},{"r":"ν₂","c":9,"s":"r","o":1,"x":-0.35,"y":0.36},{"r":"ν₂","c":9,"s":"r","o":2,"x":-0.65,"y":0.68},
{"r":"ν₂","c":9,"s":"b","o":0,"x":0,"y":0},{"r":"ν₂","c":9,"s":"b","o":1,"x":0.05,"y":0.1},{"r":"ν₂","c":9,"s":"b","o":2,"x":0.0,"y":0.2},

{"r":"α","c":3,"s":"r","a":142,"b":290,"d":0.8},{"r":"α","c":3,"s":"r","a":142,"b":290,"d":0.85},{"r":"α","c":3,"s":"r","a":142,"b":290,"d":0.9},
{"r":"α","c":6,"s":"b","a":-62,"b":100,"d":0.68},{"r":"α","c":6,"s":"b","a":-62,"b":100,"d":0.74},{"r":"α","c":6,"s":"b","a":-62,"b":100,"d":0.8},
{"r":"α","c":7,"s":"r","a":170,"b":285,"d":0.6},{"r":"α","c":7,"s":"r","a":170,"b":285,"d":0.65},{"r":"α","c":7,"s":"r","a":170,"b":285,"d":0.7},
{"r":"β","c":3,"s":"r","a":185,"b":255,"d":0.8},{"r":"β","c":3,"s":"r","a":185,"b":255,"d":0.85},{"r":"β","c":3,"s":"r","a":185,"b":255,"d":0.9},
{"r":"β","c":6,"s":"b","a":140,"b":220,"d":0.72},{"r":"β","c":6,"s":"b","a":140,"b":220,"d":0.78},{"r":"β","c":6,"s":"b","a":140,"b":220,"d":0.84},
{"r":"γ","c":1,"s":"b","a":-110,"b":150,"d":0.92},{"r":"γ","c":1,"s":"b","a":-90,"b":120,"d":0.86},{"r":"γ","c":1,"s":"r","a":160,"b":300,"d":0.82},{"r":"γ","c":1,"s":"r","a":175,"b":290,"d":0.88},{"r":"γ","c":1,"s":"r","a":-40,"b":80,"d":0.72},{"r":"γ","c":1,"s":"b","a":60,"b":330,"d":0.66},{"r":"γ","c":1,"s":"r","a":-150,"b":20,"d":0.58},{"r":"γ","c":1,"s":"b","a":-60,"b":60,"d":0.52},{"r":"γ","c":1,"s":"b","a":-55,"b":55,"d":0.45},{"r":"γ","c":1,"s":"b","a":-50,"b":50,"d":0.38},{"r":"γ","c":1,"s":"r","a":40,"b":165,"d":0.55},{"r":"γ","c":1,"s":"r","a":40,"b":160,"d":0.47},{"r":"γ","c":1,"s":"r","a":40,"b":155,"d":0.39},{"r":"γ","c":1,"s":"r","a":40,"b":150,"d":0.31},{"r":"γ","c":1,"s":"r","a":-50,"b":50,"d":0.2},{"r":"γ","c":1,"s":"r","a":-45,"b":45,"d":0.14},{"r":"γ","c":1,"s":"r","a":-40,"b":40,"d":0.08},
{"r":"γ","c":3,"s":"r","a":65,"b":178,"d":0.82},{"r":"γ","c":3,"s":"r","a":65,"b":178,"d":0.88},
{"r":"γ","c":6,"s":"b","a":60,"b":190,"d":0.72},{"r":"γ","c":6,"s":"b","a":60,"b":190,"d":0.78},{"r":"γ","c":6,"s":"b","a":60,"b":190,"d":0.85},
{"r":"γ","c":7,"s":"r","a":60,"b":170,"d":0.6},{"r":"γ","c":7,"s":"r","a":60,"b":170,"d":0.66},{"r":"γ","c":7,"s":"r","a":60,"b":170,"d":0.72},
{"r":"δ","c":9,"s":"b","a":50,"b":145,"d":0.4},{"r":"δ","c":9,"s":"b","a":50,"b":145,"d":0.5},{"r":"δ","c":9,"s":"b","a":50,"b":145,"d":0.6},{"r":"δ","c":9,"s":"b","a":50,"b":145,"d":0.7},{"r":"δ","c":9,"s":"b","a":50,"b":145,"d":0.8},{"r":"δ","c":9,"s":"b","a":50,"b":145,"d":0.9},
{"r":"ε","c":5,"s":"b","a":185,"b":240,"d":0.8},{"r":"ε","c":5,"s":"b","a":185,"b":240,"d":0.86},{"r":"ε","c":5,"s":"b","a":185,"b":240,"d":0.92},
{"r":"ζ","c":3,"s":"r","a":195,"b":265,"d":0.78},{"r":"ζ","c":3,"s":"r","a":195,"b":265,"d":0.85},{"r":"ζ","c":3,"s":"r","a":195,"b":265,"d":0.92},
{"r":"ζ","c":6,"s":"b","a":205,"b":250,"d":0.72},{"r":"ζ","c":6,"s":"b","a":205,"b":250,"d":0.8},{"r":"ζ","c":6,"s":"b","a":205,"b":250,"d":0.88},
{"r":"ν₁","c":1,"s":"b","a":-15,"b":38,"d":0.3},{"r":"ν₁","c":1,"s":"b","a":-15,"b":38,"d":0.4},{"r":"ν₁","c":1,"s":"b","a":-15,"b":38,"d":0.5},{"r":"ν₁","c":1,"s":"b","a":-15,"b":38,"d":0.6},{"r":"ν₁","c":1,"s":"b","a":-15,"b":38,"d":0.7},{"r":"ν₁","c":1,"s":"b","a":-15,"b":38,"d":0.8},{"r":"ν₁","c":1,"s":"b","a":-15,"b":38,"d":0.88},
{"r":"ν₁","c":9,"s":"b","a":-28,"b":52,"d":0.3},{"r":"ν₁","c":9,"s":"b","a":-28,"b":52,"d":0.4},{"r":"ν₁","c":9,"s":"b","a":-28,"b":52,"d":0.5},{"r":"ν₁","c":9,"s":"b","a":-28,"b":52,"d":0.6},{"r":"ν₁","c":9,"s":"b","a":-28,"b":52,"d":0.7},{"r":"ν₁","c":9,"s":"b","a":-28,"b":52,"d":0.8},
{"r":"ν₂","c":9,"s":"b","a":-45,"b":45,"d":0.3},{"r":"ν₂","c":9,"s":"b","a":-45,"b":45,"d":0.42},{"r":"ν₂","c":9,"s":"b","a":-45,"b":45,"d":0.54},{"r":"ν₂","c":9,"s":"b","a":-45,"b":45,"d":0.66},{"r":"ν₂","c":9,"s":"b","a":-45,"b":45,"d":0.78},{"r":"ν₂","c":9,"s":"b","a":-45,"b":45,"d":0.88}
]},
"facet":{
"row":{"field":"r","type":"nominal","sort":["α","β","γ","δ","ε","ζ","χ","ν₁","ν₂"],"title":null,"header":{"labels":false}},
"column":{"field":"c","type":"ordinal","title":null,
"header":{"labelFontSize":23,"labelFont":"Liberation Sans","labelColor":"#222","labelPadding":28}}
},
"spacing":{"row":7.6,"column":7.6},
"spec":{
"width":99,"height":99,
"layer":[
{"transform":[{"filter":"datum.t=='c'"}],
"mark":{"type":"point","shape":"M0,0L0,-1","size":8100,"filled":false,"stroke":"#3d9a3d","strokeWidth":1.1,"strokeDash":[2.5,2],"opacity":1},
"encoding":{"x":{"datum":0,"type":"quantitative","scale":{"domain":[-1.1,1.1],"nice":false,"zero":false},"axis":null},"y":{"datum":0,"type":"quantitative","scale":{"domain":[-1.1,1.1],"nice":false,"zero":false},"axis":null}}},
{"transform":[{"filter":"isValid(datum.o)"}],
"mark":{"type":"line","strokeWidth":1.5,"strokeJoin":"round"},
"encoding":{"x":{"field":"x","type":"quantitative","axis":null},"y":{"field":"y","type":"quantitative","axis":null},"detail":{"field":"s"},"order":{"field":"o"},
"color":{"field":"s","type":"nominal","scale":{"domain":["r","b"],"range":["#e3202b","#2b3990"]},"legend":null}}},
{"transform":[{"filter":"isValid(datum.d)"}],
"mark":{"type":"arc","filled":false,"strokeWidth":1.4},
"encoding":{"x":{"datum":0,"type":"quantitative","axis":null},"y":{"datum":0,"type":"quantitative","axis":null},
"theta":{"field":"a","type":"quantitative","scale":{"domain":[0,360],"range":[0,6.283185]},"stack":null},"theta2":{"field":"b"},
"radius":{"field":"d","type":"quantitative","scale":{"type":"linear","domain":[0,1.1],"range":[0,49.5],"zero":true}},"radius2":{"field":"d"},
"color":{"field":"s","type":"nominal","legend":null}}},
{"transform":[{"filter":"datum.t=='c'"}],
"mark":{"type":"point","shape":"M-1,0A1,1,0,1,1,1,0A1,1,0,1,1,-1,0ZM-1.07,0L-0.93,0M0.93,0L1.07,0M0,0.93L0,1.07M0.48,-0.831L0.52,-0.901M0.831,-0.48L0.901,-0.52M0.831,0.48L0.901,0.52M0.48,0.831L0.52,0.901M-0.48,0.831L-0.52,0.901M-0.831,0.48L-0.901,0.52M-0.831,-0.48L-0.901,-0.52M-0.48,-0.831L-0.52,-0.901","size":8100,"filled":false,"stroke":"#333","strokeWidth":1.3,"opacity":1},
"encoding":{"x":{"datum":0,"type":"quantitative","axis":null},"y":{"datum":0,"type":"quantitative","axis":null}}},
{"transform":[{"filter":"datum.t=='c'"}],
"mark":{"type":"point","shape":"M0,-1.12L0.2,-1L0,-0.88ZM-0.045,0A0.045,0.045,0,1,1,0.045,0A0.045,0.045,0,1,1,-0.045,0Z","size":8100,"filled":true,"fill":"#111","strokeWidth":0,"opacity":1},
"encoding":{"x":{"datum":0,"type":"quantitative","axis":null},"y":{"datum":0,"type":"quantitative","axis":null}}},
{"transform":[{"filter":"datum.c==1 && isValid(datum.t)"}],
"mark":{"type":"text","align":"right","baseline":"middle","font":"Liberation Serif","fontSize":34,"color":"#222"},
"encoding":{"x":{"datum":-1.567,"type":"quantitative","axis":null},"y":{"datum":0,"type":"quantitative","axis":null},"text":{"field":"r"}}}
]}
}
